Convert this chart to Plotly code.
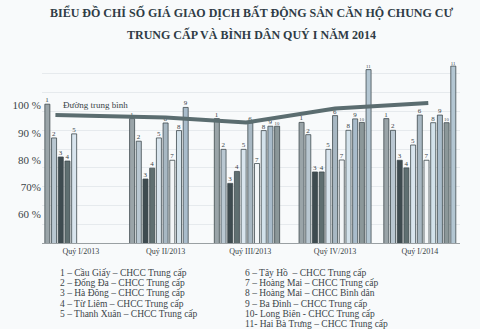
import plotly.graph_objects as go

quarters = ["Quý I/2013", "Quý II/2013", "Quý III/2013", "Quý IV/2013", "Quý I/2014"]
districts = [
    "1 – Cầu Giấy – CHCC Trung cấp",
    "2 – Đống Đa – CHCC Trung cấp",
    "3 – Hà Đông – CHCC Trung cấp",
    "4 – Từ Liêm – CHCC Trung cấp",
    "5 – Thanh Xuân – CHCC Trung cấp",
    "6 – Tây Hồ  – CHCC Trung cấp",
    "7 – Hoàng Mai – CHCC Trung cấp",
    "8 – Hoàng Mai – CHCC Bình dân",
    "9 – Ba Đình – CHCC Trung cấp",
    "10- Long Biên - CHCC Trung cấp",
    "11- Hai Bà Trưng – CHCC Trung cấp",
]
q1_2013 = [100.5, 88.1, 81.1, 79.6, 89.6]
q2_2013 = [95.2, 86.9, 73.0, 77.0, 88.1, 93.6, 79.9, 90.8, 99.3]
q3_2013 = [95.2, 83.9, 71.4, 75.8, 83.9, 93.6, 78.7, 90.8, 92.4, 92.4]
q4_2013 = [93.8, 89.3, 75.6, 75.6, 83.9, 96.3, 80.0, 90.9, 95.1, 93.8, 113.2]
q1_2014 = [95.2, 90.9, 79.9, 77.1, 85.5, 96.5, 79.9, 93.7, 96.5, 93.7, 114.5]
groups = [q1_2013, q2_2013, q3_2013, q4_2013, q1_2014]

avg_label = "Đường trung bình"
avg_pos = [-0.3, 1.0, 1.95, 3.0, 4.1]      # in quarter units
avg_vals = [96.5, 95.6, 93.8, 98.9, 100.9]

y_ticks = [60, 70, 80, 90, 100]
y_tick_text = ["60 %", "70%", "80 %", "90 %", "100 %"]

colors = ["#9aa4a8", "#b9c7d1", "#3e4b50", "#5f6f71", "#d9e5ee", "#a8b8c3",
          "#f2f5f7", "#d3e2eb", "#a9bccb", "#8b9799", "#b3c6d2"]

GROUP_STEP = 12.65
SERIF = "Liberation Serif"

fig = go.Figure()
for k in range(len(districts)):
    xs, ys = [], []
    for g, vals in enumerate(groups):
        if k < len(vals):
            xs.append(g * GROUP_STEP + k + 0.5)
            ys.append(vals[k])
    fig.add_trace(go.Bar(
        x=xs, y=ys, width=0.75, marker=dict(color=colors[k], line=dict(color="#3f4a4e", width=0.8)),
        text=[str(k + 1)] * len(xs), textposition="outside", cliponaxis=False,
        textfont=dict(family=SERIF, size=7, color="#3a4448"), showlegend=False,
        hoverinfo="y",
    ))

fig.add_trace(go.Scatter(
    x=[p * GROUP_STEP + 5.5 for p in avg_pos], y=avg_vals, mode="lines",
    line=dict(color="#5b6d70", width=4), showlegend=False, hoverinfo="skip",
))
# grid-only overlay axis
fig.add_trace(go.Scatter(x=[0], y=[60], yaxis="y2", mode="markers", marker=dict(opacity=0),
                         showlegend=False, hoverinfo="skip"))

fig.update_layout(
    width=480, height=329,
    margin=dict(l=42, r=20, t=62, b=86),
    paper_bgcolor="#f8fafb", plot_bgcolor="rgba(0,0,0,0)",
    barmode="overlay",
    xaxis=dict(range=[-0.3, 62.1], tickvals=[g * GROUP_STEP + 5.5 for g in range(len(quarters))],
               ticktext=quarters, showgrid=False, zeroline=False, showline=True,
               linecolor="#9aa0a3", linewidth=1, ticks="",
               tickfont=dict(family=SERIF, size=8, color="#3a4448")),
    yaxis=dict(range=[49.5, 116], tickvals=y_ticks, ticktext=y_tick_text, showgrid=False,
               zeroline=False, ticks="", tickfont=dict(family=SERIF, size=11, color="#3a4448")),
    yaxis2=dict(range=[49.5, 116], overlaying="y", tick0=56.4, dtick=6.9, showgrid=True,
                gridcolor="#e6eaed", gridwidth=1, showticklabels=False, zeroline=False, layer="below traces"),
    font=dict(family=SERIF),
)

fig.add_annotation(text="<b>BIỂU ĐỒ CHỈ SỐ GIÁ GIAO DỊCH BẤT ĐỘNG SẢN CĂN HỘ CHUNG CƯ</b>",
                   xref="paper", yref="paper", x=0.5, y=1, yshift=50, xanchor="center", yanchor="middle",
                   showarrow=False, font=dict(family=SERIF, size=12, color="#2f3c46"))
fig.add_annotation(text="<b>TRUNG CẤP VÀ BÌNH DÂN QUÝ I NĂM 2014</b>",
                   xref="paper", yref="paper", x=0.5, y=1, yshift=28, xanchor="center", yanchor="middle",
                   showarrow=False, font=dict(family=SERIF, size=12, color="#2f3c46"))
fig.add_annotation(text=avg_label, x=avg_pos[0] * GROUP_STEP + 5.5, y=avg_vals[0], xanchor="left",
                   yanchor="bottom", yshift=3, xshift=6, showarrow=False,
                   font=dict(family=SERIF, size=9, color="#3a4448"))

for i, name in enumerate(districts):
    col = 0 if i < 5 else 1
    row = i if i < 5 else i - 5
    fig.add_annotation(text=name, xref="paper", yref="paper",
                       x=(58 - 42) / 418 if col == 0 else (243 - 42) / 418,
                       y=0, yshift=-30 - 10.2 * row, xanchor="left", yanchor="middle",
                       align="left", showarrow=False,
                       font=dict(family=SERIF, size=9.5, color="#3a4448"))

fig.write_html("out.html")
